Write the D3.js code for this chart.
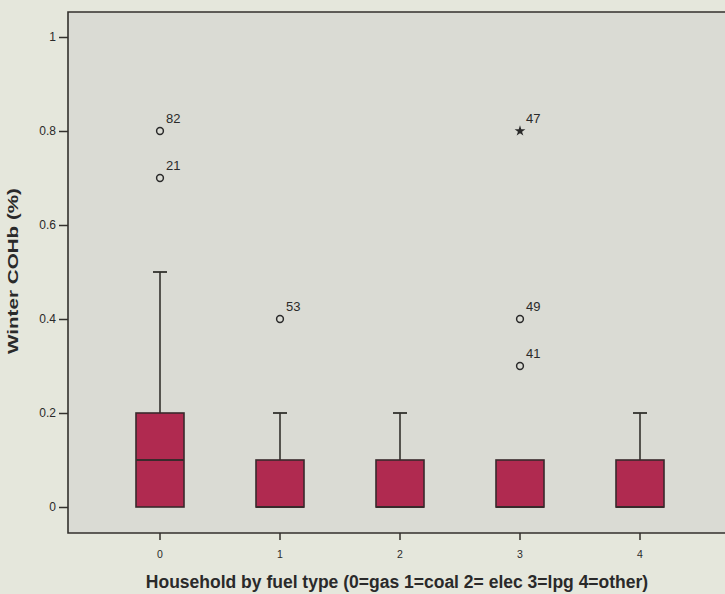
<!DOCTYPE html>
<html><head><meta charset="utf-8">
<script src="https://cdn.jsdelivr.net/npm/d3@7"></script>
<style>body{margin:0;background:#e5e7dc;}svg{display:block;}</style>
</head><body>
<svg id="c" width="725" height="594"></svg>
<script>
const categories = ["0","1","2","3","4"];
const q1 = [0, 0, 0, 0, 0];
const median = [0.1, 0, 0, 0, 0];
const q3 = [0.2, 0.1, 0.1, 0.1, 0.1];
const whiskerLow = [0, 0, 0, 0, 0];
const whiskerHigh = [0.5, 0.2, 0.2, 0.1, 0.2];
const outlierCat = ["0","0","1","3","3","3"];
const outlierVal = [0.8, 0.7, 0.4, 0.8, 0.4, 0.3];
const outlierId = ["82","21","53","47","49","41"];
const outlierExtreme = [false,false,false,true,false,false];
const yTicks = [0, 0.2, 0.4, 0.6, 0.8, 1];
const xTitle = "Household by fuel type (0=gas 1=coal 2= elec 3=lpg 4=other)";
const yTitle = "Winter COHb (%)";

const svg = d3.select("#c");
const L = 68, R = 733, T = 12, B = 533;
svg.append("rect").attr("width",725).attr("height",594).attr("fill","#e5e7dc");
svg.append("rect").attr("x",L).attr("y",T).attr("width",R-L).attr("height",B-T).attr("fill","#dadbd4");

const x = d3.scaleBand().domain(categories).range([100, 700]).paddingInner(0.6).paddingOuter(0.3);
const y = d3.scaleLinear().domain([0,1]).range([507, 37]);
const cx = c => x(c) + x.bandwidth()/2;
const bw = 48;
const ink = "#33312d";

// frame
svg.append("path").attr("d",`M${R},${T}H${L}V${B}H${R}`).attr("fill","none").attr("stroke",ink).attr("stroke-width",1.6);

// y axis
const ya = svg.append("g").attr("transform",`translate(${L},0)`)
  .call(d3.axisLeft(y).tickValues(yTicks).tickFormat(d3.format("")).tickSize(9).tickPadding(3));
ya.select(".domain").remove();
ya.selectAll("line").attr("stroke",ink).attr("stroke-width",1.5);
ya.selectAll("text").attr("font-family","Liberation Sans, Arial").attr("font-size",12).attr("fill","#2a2a2a");

// x axis
const xa = svg.append("g").attr("transform",`translate(0,${B})`)
  .call(d3.axisBottom(x).tickSize(7).tickPadding(11));
xa.select(".domain").remove();
xa.selectAll("line").attr("stroke",ink).attr("stroke-width",1.5);
xa.selectAll("text").attr("font-family","Liberation Sans, Arial").attr("font-size",10.5).attr("fill","#2a2a2a");

const g = svg.append("g");
categories.forEach((c,i)=>{
  const xc = cx(c);
  if (whiskerHigh[i] > q3[i]) {
    g.append("line").attr("x1",xc).attr("x2",xc).attr("y1",y(q3[i])).attr("y2",y(whiskerHigh[i])).attr("stroke",ink).attr("stroke-width",1.6);
    g.append("line").attr("x1",xc-7).attr("x2",xc+7).attr("y1",y(whiskerHigh[i])).attr("y2",y(whiskerHigh[i])).attr("stroke",ink).attr("stroke-width",1.8);
  }
  g.append("rect").attr("x",xc-bw/2).attr("y",y(q3[i])).attr("width",bw).attr("height",y(q1[i])-y(q3[i]))
    .attr("fill","#b02a50").attr("stroke","#3a2a2c").attr("stroke-width",1.6);
  g.append("line").attr("x1",xc-bw/2).attr("x2",xc+bw/2).attr("y1",y(median[i])).attr("y2",y(median[i])).attr("stroke","#3a2a2c").attr("stroke-width",1.8);
});

outlierVal.forEach((v,i)=>{
  const xc = cx(outlierCat[i]), yy = y(v);
  if (outlierExtreme[i]) {
    g.append("path").attr("d",d3.symbol(d3.symbolStar,36)()).attr("transform",`translate(${xc},${yy})`).attr("fill","#2a2a2a");
  } else {
    g.append("circle").attr("cx",xc).attr("cy",yy).attr("r",3.4).attr("fill","none").attr("stroke","#2a2a2a").attr("stroke-width",1.5);
  }
  g.append("text").attr("x",xc+6).attr("y",yy-8).text(outlierId[i])
    .attr("font-family","Liberation Sans, Arial").attr("font-size",13).attr("fill","#2a2a2a");
});

svg.append("text").attr("x",397).attr("y",588).attr("text-anchor","middle").text(xTitle)
  .attr("font-family","Liberation Sans, Arial").attr("font-weight","bold").attr("font-size",17.5).attr("fill","#2a2a2a");
svg.append("text").attr("transform","translate(18,271) rotate(-90)").attr("text-anchor","middle").text(yTitle)
  .attr("textLength",166).attr("lengthAdjust","spacingAndGlyphs")
  .attr("font-family","Liberation Sans, Arial").attr("font-weight","bold").attr("font-size",15.5).attr("fill","#2a2a2a");
</script>
</body></html>
